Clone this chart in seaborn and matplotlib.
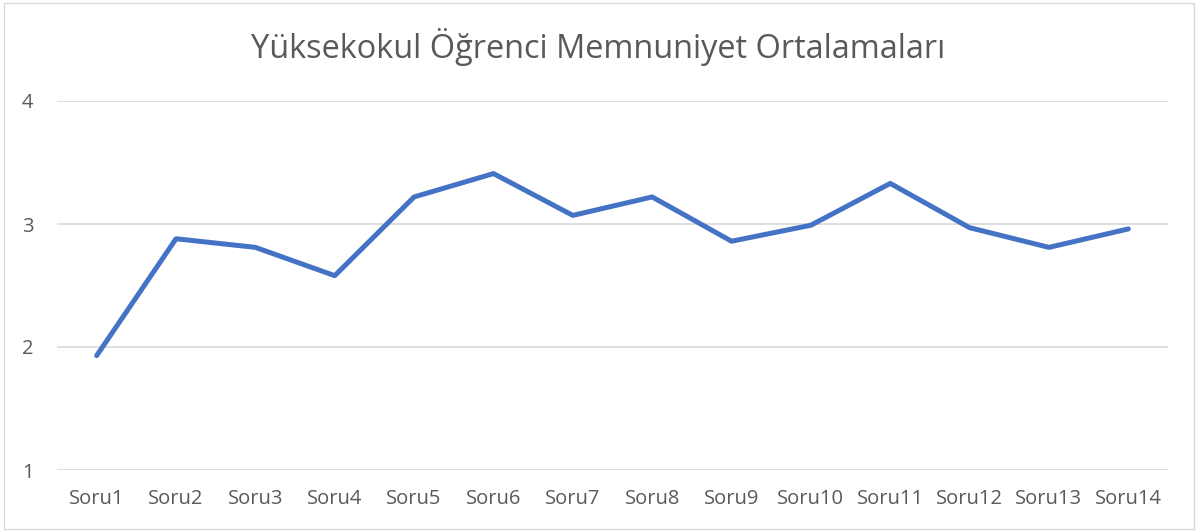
import matplotlib
matplotlib.use("Agg")
import matplotlib.pyplot as plt
import seaborn as sns
import pandas as pd
from matplotlib.patches import Rectangle

categories = ["Soru1", "Soru2", "Soru3", "Soru4", "Soru5", "Soru6", "Soru7",
              "Soru8", "Soru9", "Soru10", "Soru11", "Soru12", "Soru13", "Soru14"]
averages = [1.93, 2.88, 2.81, 2.58, 3.22, 3.41, 3.07,
            3.22, 2.86, 2.99, 3.33, 2.97, 2.81, 2.96]
y_ticks = [1, 2, 3, 4]
title = "Yüksekokul Öğrenci Memnuniyet Ortalamaları"

df = pd.DataFrame({"soru": categories, "ortalama": averages})

sns.set_theme(style="white")
plt.rcParams["font.family"] = ["Open Sans", "DejaVu Sans"]
text_color = "#595959"

fig = plt.figure(figsize=(11.97, 5.31), dpi=100)
ax = fig.add_axes([57 / 1197, 1 - 470 / 531, 1111 / 1197, 369 / 531])

sns.lineplot(data=df, x="soru", y="ortalama", ax=ax, color="#4472C4",
             linewidth=3.6, sort=False, solid_capstyle="round", solid_joinstyle="round")

ax.set_xlim(-0.5, len(categories) - 0.5)
ax.set_ylim(1, 4)
ax.set_yticks(y_ticks)
ax.set_yticklabels([str(t) for t in y_ticks])
ax.set_xlabel("")
ax.set_ylabel("")
for t in y_ticks:
    ax.axhline(t, color="#D9D9D9", linewidth=1.2, zorder=0)
for s in ax.spines.values():
    s.set_visible(False)
ax.tick_params(axis="both", length=0, labelsize=14.5, colors=text_color)
ax.tick_params(axis="x", pad=14)
ax.tick_params(axis="y", pad=17)

fig.text(0.5, 1 - 47 / 531, title, ha="center", va="center",
         fontsize=23.4, color=text_color)

fig.patches.append(Rectangle((4 / 1197, 2 / 531), 1190 / 1197, 526 / 531,
                             transform=fig.transFigure, fill=False,
                             edgecolor="#D9D9D9", linewidth=1))

fig.savefig("out.png", dpi=100)
